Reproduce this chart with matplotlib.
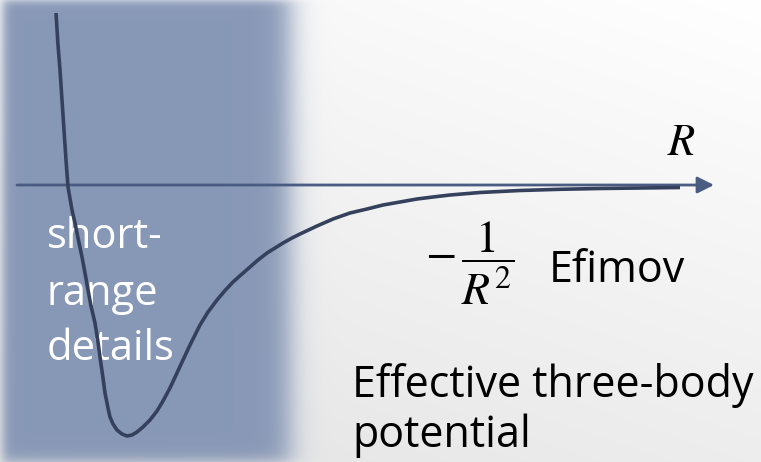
import numpy as np
import matplotlib.pyplot as plt

plt.rcParams['mathtext.fontset'] = 'stix'

# three-body potential: R along the axis, V measured up from the axis
R = [56, 58, 60, 62, 64, 66, 68, 72, 75, 78, 82, 85, 88, 91, 95, 98, 100,
     103, 105, 108, 110, 113, 117, 122, 127, 132, 137, 143, 150, 157, 163,
     170, 177, 183, 190, 200, 208, 217, 225, 233, 242, 250, 258, 267, 275,
     283, 292, 300, 317, 333, 350, 367, 383, 400, 417, 433, 450, 480, 520,
     560, 600, 640, 680]
V = [172, 140, 115, 85, 55, 25, -2, -25, -38, -53, -72, -88, -105, -121,
     -138, -157, -172, -193, -208, -223, -232, -239, -245, -249, -251, -250,
     -247, -242, -235, -226, -216, -203, -188, -175, -160, -140, -127, -115,
     -105.5, -97, -89, -82, -75, -68, -63, -58, -53, -49, -41, -34, -28, -24,
     -20, -17, -14, -12, -10, -7.5, -5.5, -4.3, -3.5, -3, -2.5]

W, H = 761, 462
y_axis = 185  # pixel row of the R axis

fig = plt.figure(figsize=(W / 100, H / 100), dpi=100)
ax = fig.add_axes([0, 0, 1, 1])
ax.set_xlim(0, W)
ax.set_ylim(y_axis - H, y_axis)
ax.axis('off')

# background: white at the top right fading to light grey
px, py = np.meshgrid(np.arange(W) + 0.5, np.arange(H) + 0.5)
grey = 1 - 0.07 * (py / H) - 0.04 * (1 - px / W)
bg = np.dstack([grey, grey, grey])

# soft-edged shaded band for the short-range region
def step(t, c, w):
    return 0.5 * (1 + np.tanh((t - c) / w))

alpha = (step(px, 3, 6) * (1 - step(px, 290, 16))
         * step(py, 0, 5) * (1 - step(py, 462, 8)))
band = np.array([0.533, 0.596, 0.714])
img = bg * (1 - alpha[..., None]) + band * alpha[..., None]
ax.imshow(img, extent=[0, W, y_axis - H, y_axis], origin='upper',
          aspect='auto', zorder=0, interpolation='bilinear')

# R axis with arrow head
ax.annotate('', xy=(714, 0), xytext=(17, 0),
            arrowprops=dict(arrowstyle='-|>,head_length=0.4,head_width=0.2',
                            mutation_scale=25, color='#4a5c82', lw=2,
                            shrinkA=0, shrinkB=0), zorder=2)

ax.plot(R, V, color='#35415c', lw=2.6, solid_capstyle='butt',
        solid_joinstyle='round', zorder=3)

font = 'Open Sans'
for txt, yb in [('short-', 248), ('range', 305), ('details', 360)]:
    ax.text(47, y_axis - yb, txt, color='white', fontsize=30, family=font,
            va='baseline', ha='left', zorder=1)

ax.text(667, y_axis - 155, r'$R$', fontsize=32, va='baseline', ha='left',
        zorder=4)
ax.text(470, y_axis - 263, r'$-\,\dfrac{1}{R^2}$', fontsize=33,
        va='center', ha='center', zorder=4)
ax.text(549, y_axis - 282, 'Efimov', fontsize=31, family=font,
        va='baseline', ha='left', zorder=4)
ax.text(352, y_axis - 397, 'Effective three-body', fontsize=31, family=font,
        va='baseline', ha='left', zorder=4)
ax.text(352, y_axis - 447, 'potential', fontsize=31, family=font,
        va='baseline', ha='left', zorder=4)

fig.savefig('out.png', dpi=100)
